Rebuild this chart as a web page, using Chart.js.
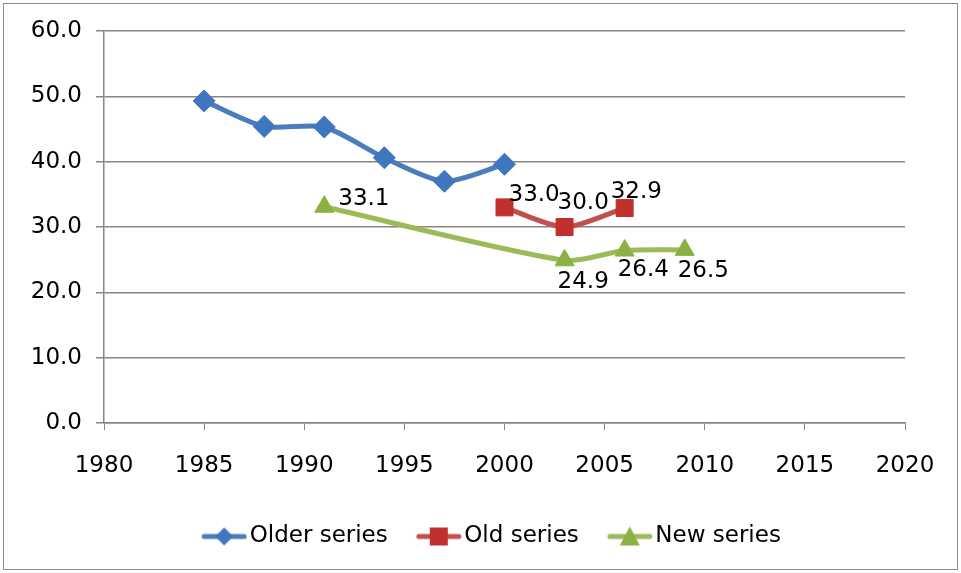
<!DOCTYPE html>
<html>
<head>
<meta charset="utf-8">
<script src="https://cdn.jsdelivr.net/npm/chart.js@4/dist/chart.umd.min.js"></script>
<style>
  body { margin: 0; background: #fff; }
  canvas { display: block; }
</style>
</head>
<body>
<canvas id="grafico" width="961" height="573"></canvas>
<script>
// dados
const xTicks = [1980, 1985, 1990, 1995, 2000, 2005, 2010, 2015, 2020];
const yTicks = [0, 10, 20, 30, 40, 50, 60];

const olderYears = [1985, 1988, 1991, 1994, 1997, 2000];
const olderValues = [49.3, 45.4, 45.3, 40.6, 37.0, 39.6];

const oldYears = [2000, 2003, 2006];
const oldValues = [33.0, 30.0, 32.9];

const newYears = [1991, 2003, 2006, 2009];
const newValues = [33.1, 24.9, 26.4, 26.5];

const FONT = "DejaVu Sans";
const FONT_SIZE = 23;

function pontos(anos, valores) {
  return anos.map((a, i) => ({ x: a, y: valores[i] }));
}

// ícone da legenda: linha + marcador
function iconeLegenda(cor, corMarcador, tipo) {
  const c = document.createElement("canvas");
  c.width = 52; c.height = 22;
  const ctx = c.getContext("2d");
  ctx.translate(6, 0);
  ctx.strokeStyle = cor;
  ctx.lineWidth = 5;
  ctx.lineCap = "round";
  ctx.beginPath(); ctx.moveTo(3, 11); ctx.lineTo(43, 11); ctx.stroke();
  ctx.fillStyle = corMarcador;
  ctx.beginPath();
  if (tipo === "rectRot") {
    ctx.moveTo(23, 2); ctx.lineTo(32, 11); ctx.lineTo(23, 20); ctx.lineTo(14, 11);
  } else if (tipo === "rect") {
    ctx.rect(14, 2, 18, 18);
  } else {
    ctx.moveTo(23, 1); ctx.lineTo(33, 20); ctx.lineTo(13, 20);
  }
  ctx.closePath(); ctx.fill();
  return c;
}

const rotulos = {
  id: "rotulos",
  afterDatasetsDraw(chart) {
    const ctx = chart.ctx;
    ctx.save();
    ctx.font = FONT_SIZE + "px '" + FONT + "'";
    ctx.fillStyle = "#000";
    ctx.textAlign = "left";
    ctx.textBaseline = "middle";
    chart.data.datasets.forEach((ds, i) => {
      if (!ds.labelOffsets) return;
      chart.getDatasetMeta(i).data.forEach((p, j) => {
        const off = ds.labelOffsets[j];
        ctx.fillText(ds.data[j].y.toFixed(1), p.x + off[0], p.y + off[1]);
      });
    });
    ctx.restore();
  }
};

const moldura = {
  id: "moldura",
  beforeDraw(chart) {
    const ctx = chart.ctx;
    ctx.save();
    ctx.fillStyle = "#fff";
    ctx.fillRect(0, 0, chart.width, chart.height);
    ctx.strokeStyle = "#8c8c8c";
    ctx.lineWidth = 1;
    ctx.strokeRect(3.5, 3.5, 954, 566);
    ctx.restore();
  },
  // centraliza a legenda na largura toda do quadro
  afterLayout(chart) {
    const lg = chart.legend;
    if (lg) { lg.left += 40; lg.right += 40; }
  }
};

Chart.defaults.font.family = FONT;
Chart.defaults.font.size = FONT_SIZE;
Chart.defaults.color = "#000";

new Chart(document.getElementById("grafico"), {
  type: "line",
  data: {
    datasets: [{
      label: "Older series",
      data: pontos(olderYears, olderValues),
      borderColor: "#4a7ebb",
      backgroundColor: "#3f76c0",
      pointBorderColor: "#3f76c0",
      pointBorderWidth: 1,
      borderWidth: 5,
      pointStyle: "rectRot",
      pointRadius: 11,
      pointHoverRadius: 11,
      tension: 0.25,
      legendIcon: iconeLegenda("#4a7ebb", "#3f76c0", "rectRot")
    }, {
      label: "Old series",
      data: pontos(oldYears, oldValues),
      borderColor: "#c0504d",
      backgroundColor: "#c0302d",
      pointBorderColor: "#c0302d",
      pointBorderWidth: 1,
      borderWidth: 5,
      pointStyle: "rect",
      pointRadius: 12,
      pointHoverRadius: 12,
      tension: 0.25,
      labelOffsets: [[4, -12], [-7, -24], [-14, -16]],
      legendIcon: iconeLegenda("#c0504d", "#c0302d", "rect")
    }, {
      label: "New series",
      data: pontos(newYears, newValues),
      borderColor: "#9bbb59",
      backgroundColor: "#8ab142",
      pointBorderColor: "#8ab142",
      pointBorderWidth: 1,
      borderWidth: 5,
      pointStyle: "triangle",
      pointRadius: 11,
      pointHoverRadius: 11,
      tension: 0.25,
      labelOffsets: [[14, -8], [-7, 22], [-7, 20], [-7, 21]],
      legendIcon: iconeLegenda("#9bbb59", "#8ab142", "triangle")
    }]
  },
  options: {
    responsive: false,
    animation: false,
    devicePixelRatio: 1,
    layout: { padding: { top: 31, right: 56, bottom: 15, left: 0 } },
    plugins: {
      tooltip: { enabled: false },
      legend: {
        position: "bottom",
        labels: {
          usePointStyle: true,
          boxWidth: 34,
          pointStyleWidth: 34,
          padding: 31,
          font: { size: FONT_SIZE },
          generateLabels(chart) {
            return chart.data.datasets.map((ds, i) => ({
              text: ds.label,
              pointStyle: ds.legendIcon,
              fillStyle: ds.borderColor,
              strokeStyle: ds.borderColor,
              lineWidth: 0,
              hidden: false,
              datasetIndex: i,
              fontColor: "#000"
            }));
          }
        }
      }
    },
    scales: {
      x: {
        type: "linear",
        min: xTicks[0],
        max: xTicks[xTicks.length - 1],
        afterBuildTicks(scale) { scale.ticks = xTicks.map(v => ({ value: v })); },
        afterFit(scale) { scale.height = 71; },
        ticks: {
          padding: 22,
          maxRotation: 0,
          callback: v => String(v)
        },
        grid: { drawOnChartArea: false, color: "#868686", tickLength: 7 },
        border: { color: "#868686", width: 1.5 }
      },
      y: {
        min: yTicks[0],
        max: yTicks[yTicks.length - 1],
        afterBuildTicks(scale) { scale.ticks = yTicks.map(v => ({ value: v })); },
        afterFit(scale) { scale.width = 104; },
        ticks: {
          padding: 14,
          callback: v => v.toFixed(1)
        },
        grid: { color: "#868686", lineWidth: 1.5, tickLength: 8 },
        border: { color: "#868686", width: 1.5 }
      }
    }
  },
  plugins: [moldura, rotulos]
});
</script>
</body>
</html>
